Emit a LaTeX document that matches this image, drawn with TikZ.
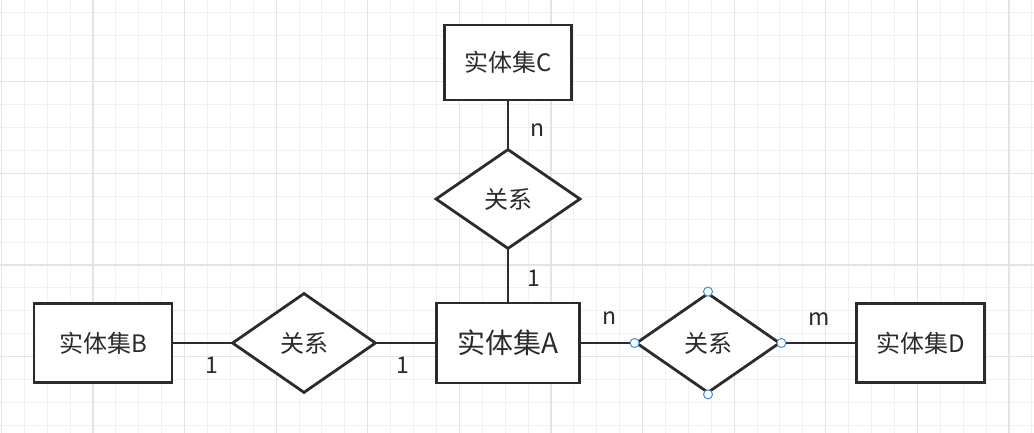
\documentclass[tikz,border=0pt]{standalone}
\usepackage{fontspec}
\setmainfont{Noto Sans CJK SC}
\usetikzlibrary{shapes.geometric}
\definecolor{ink}{HTML}{2B2B2B}
\definecolor{gminor}{HTML}{F1F1F1}
\definecolor{gmajor}{HTML}{E4E4E4}
\definecolor{handle}{HTML}{3A8EE6}
\tikzset{
  entity/.style={draw=ink, line width=2.8pt, fill=white, rectangle, inner sep=0pt, text=ink, font=\fontsize{24}{28}\selectfont},
  rel/.style={draw=ink, line width=2.8pt, fill=white, diamond, inner sep=0pt, minimum width=144pt, minimum height=100pt, text=ink, font=\fontsize{24}{28}\selectfont},
  conn/.style={draw=ink, line width=2.8pt},
  card/.style={text=ink, inner sep=0pt, font=\fontsize{23}{27}\selectfont},
  hdl/.style={draw=handle, fill=white, line width=1pt, circle, inner sep=0pt, minimum size=9pt},
}
\begin{document}
\begin{tikzpicture}[x=1pt,y=-1pt]
\useasboundingbox (0,0) rectangle (1034,433);
\fill[white] (0,0) rectangle (1034,433);
% grid
\foreach \i in {0,...,46}{
  \pgfmathsetmacro\gx{1.3+22.9*\i}
  \draw[gminor, line width=1pt] (\gx,0) -- (\gx,433);
}
\foreach \i in {0,...,19}{
  \pgfmathsetmacro\gy{-9.9+22.9*\i}
  \draw[gminor, line width=1pt] (0,\gy) -- (1034,\gy);
}
\foreach \i in {0,...,12}{
  \pgfmathsetmacro\gx{1.3+91.6*\i}
  \draw[gmajor, line width=1.2pt] (\gx,0) -- (\gx,433);
}
\foreach \i in {0,...,5}{
  \pgfmathsetmacro\gy{-9.9+91.6*\i}
  \draw[gmajor, line width=1.2pt] (0,\gy) -- (1034,\gy);
}
% nodes
\node[entity, minimum width=138pt, minimum height=79pt] (B) at (103,343) {实体集B};
\node[rel] (rB) at (304,343) {关系};
\node[entity, minimum width=143pt, minimum height=80pt, font=\fontsize{28}{32}\selectfont] (A) at (508,343) {实体集A};
\node[rel, minimum width=145pt] (rC) at (508,199) {关系};
\node[entity, minimum width=127pt, minimum height=75pt] (C) at (508,62.5) {实体集C};
\node[rel] (rD) at (708,343) {关系};
\node[entity, minimum width=128pt, minimum height=79pt] (D) at (920.5,343) {实体集D};
% connectors
\draw[conn] (B.east) -- (rB.west);
\draw[conn] (rB.east) -- (A.west);
\draw[conn] (A.north) -- (rC.south);
\draw[conn] (rC.north) -- (C.south);
\draw[conn] (A.east) -- (rD.west);
\draw[conn] (rD.east) -- (D.west);
% handles
\node[hdl] (h1) at (rD.north) {};
\node[hdl] (h2) at (rD.south) {};
\node[hdl] (h3) at (rD.west) {};
\node[hdl] (h4) at (rD.east) {};
% cardinalities
\node[card] (l1) at (538,130) {n};
\node[card] (l2) at (534,278) {1};
\node[card] (l3) at (212,365) {1};
\node[card] (l4) at (403,365) {1};
\node[card] (l5) at (610,318) {n};
\node[card] (l6) at (819,319) {m};
\end{tikzpicture}
\end{document}
